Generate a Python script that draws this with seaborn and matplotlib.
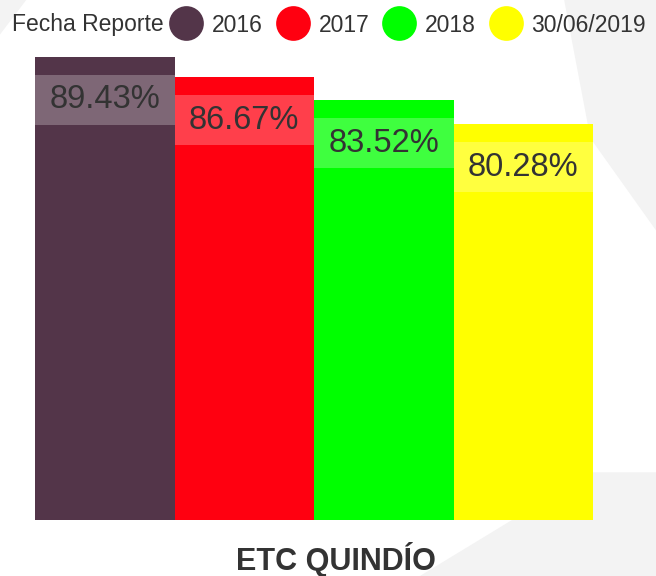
import pandas as pd
import matplotlib
matplotlib.use("Agg")
import matplotlib.pyplot as plt
from matplotlib.lines import Line2D
from matplotlib.patches import Polygon, Rectangle
from matplotlib.transforms import ScaledTranslation
import seaborn as sns

# datos
entidad = ["ETC QUINDÍO"] * 4
fechas = ["2016", "2017", "2018", "30/06/2019"]
valores = [89.43, 86.67, 83.52, 80.28]
colores = ["#533549", "#FF0010", "#00FF00", "#FFFF00"]

df = pd.DataFrame({"entidad": entidad, "fecha": fechas, "valor": valores})

sns.set_theme(style="white")
plt.rcParams["font.family"] = ["Liberation Sans", "DejaVu Sans"]

fig = plt.figure(figsize=(6.56, 5.76), dpi=100, facecolor="white")

# marca de agua gris clara del fondo
fondo = [
    [(0.64, 0.0), (0.90, 0.18), (1.0, 0.18), (1.0, 0.0)],
    [(0.86, 1.0), (1.0, 1.0), (1.0, 0.60), (0.90, 0.76)],
    [(0.0, 1.0), (0.04, 1.0), (0.0, 0.94)],
]
for pts in fondo:
    fig.add_artist(Polygon(pts, closed=True, transform=fig.transFigure,
                           facecolor="#f3f3f3", edgecolor="none", zorder=0))

ax = fig.add_axes([35 / 656, 56 / 576, 558 / 656, 463 / 576])
ax.set_facecolor("none")

sns.barplot(data=df, x="entidad", y="valor", hue="fecha", hue_order=fechas,
            palette=colores, width=1.0, saturation=1, legend=False, ax=ax,
            linewidth=0)

ax.set_xlim(-0.5, 0.5)
ax.set_ylim(26.3, 89.43)
ax.set_yticks([])
ax.set_ylabel("")
ax.set_xlabel("")
for s in ax.spines.values():
    s.set_visible(False)

# etiqueta de categoria
ax.tick_params(axis="x", length=0, pad=16)
for lbl in ax.get_xticklabels():
    lbl.set_fontsize(22)
    lbl.set_fontweight("bold")
    lbl.set_color("#333333")
    lbl.set_transform(lbl.get_transform() + ScaledTranslation(0.22, 0, fig.dpi_scale_trans))

# bandas y etiquetas de valor
y0, y1 = ax.get_ylim()
dpp = (y1 - y0) / 463.0
for p, v in zip(ax.patches, valores):
    top = p.get_y() + p.get_height()
    band_top = top - 18 * dpp
    band_h = 50 * dpp
    ax.add_patch(Rectangle((p.get_x(), band_top - band_h), p.get_width(), band_h,
                           facecolor="white", alpha=0.25, edgecolor="none", zorder=3))
    ax.text(p.get_x() + p.get_width() / 2, band_top - band_h / 2, f"{v:.2f}%",
            ha="center", va="center", fontsize=23.5, color="#333333", zorder=4)

# leyenda
fig.text(12 / 656, 1 - 25 / 576, "Fecha Reporte", ha="left", va="center",
         fontsize=16.5, color="#333333")
handles = [Line2D([], [], marker="o", linestyle="none", markersize=25,
                  markerfacecolor=c, markeredgecolor="none") for c in colores]
fig.legend(handles, fechas, loc="center left", bbox_to_anchor=(170 / 656, 1 - 25 / 576),
           ncol=4, frameon=False, fontsize=16.5, handlelength=1.43, handletextpad=0.4,
           columnspacing=0.6, borderpad=0, borderaxespad=0, labelcolor="#333333")

fig.savefig("out.png", dpi=100, facecolor="white")
